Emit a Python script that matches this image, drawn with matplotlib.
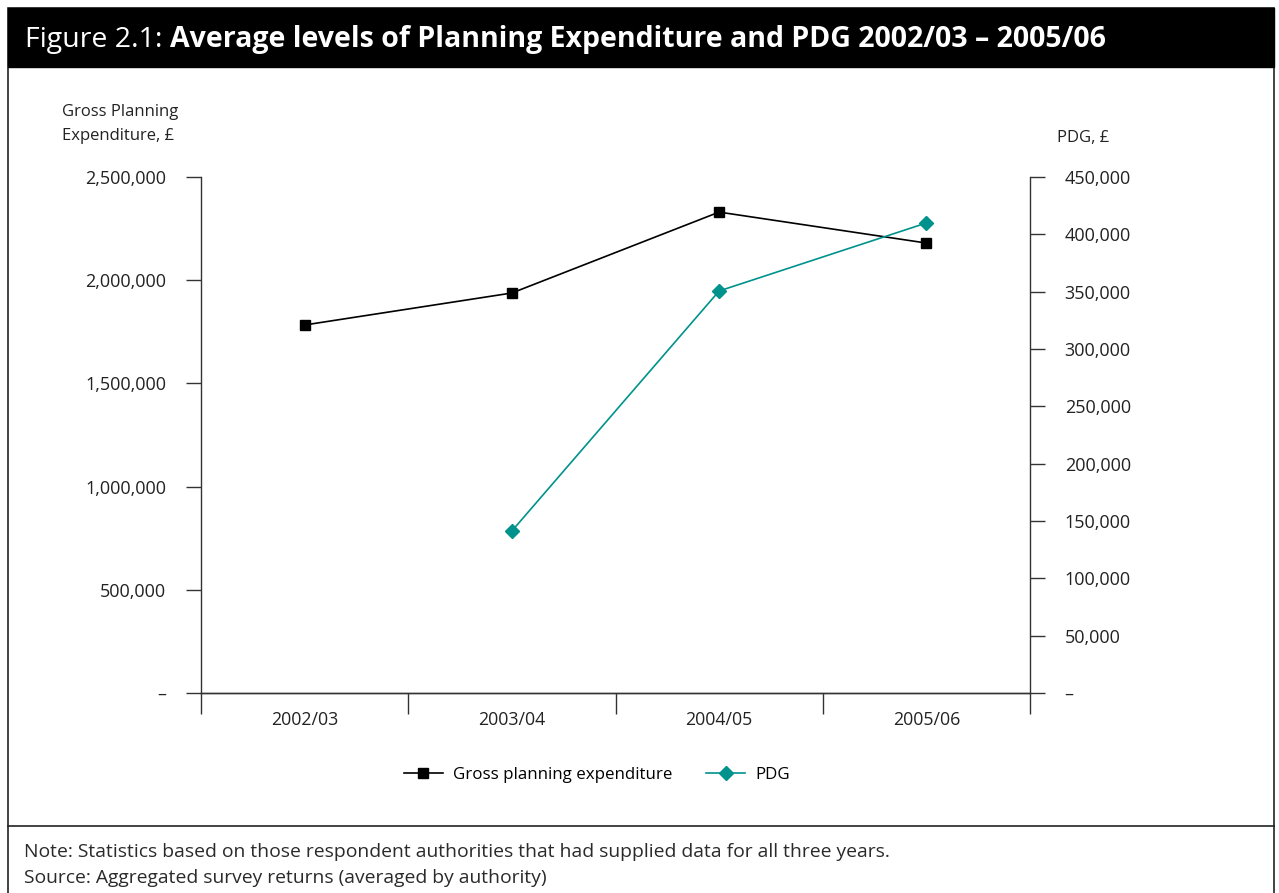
import matplotlib.pyplot as plt
from matplotlib.patches import Rectangle
from matplotlib.lines import Line2D
from matplotlib.ticker import FuncFormatter

plt.rcParams['font.family'] = ['Open Sans', 'DejaVu Sans']

years = ['2002/03', '2003/04', '2004/05', '2005/06']
gross_expenditure = [1783000, 1938000, 2330000, 2180000]
pdg_years = ['2003/04', '2004/05', '2005/06']
pdg = [141300, 350600, 409900]

left_ticks = [0, 500000, 1000000, 1500000, 2000000, 2500000]
right_ticks = [0, 50000, 100000, 150000, 200000, 250000, 300000, 350000, 400000, 450000]

teal = '#00928c'
tick_color = '#333333'
W, H = 1279, 893


def fmt(v, pos=None):
    return '–' if v == 0 else f'{int(v):,}'


fig = plt.figure(figsize=(W / 100, H / 100), dpi=100)

# frame and title bar
fig.add_artist(Rectangle((8 / W, -0.01), 1266 / W, 1 - 8 / H + 0.01, transform=fig.transFigure,
                         fill=False, edgecolor='#222222', linewidth=1.2))
fig.add_artist(Rectangle((8 / W, 1 - 67 / H), 1266 / W, 59 / H, transform=fig.transFigure,
                         facecolor='black', edgecolor='black'))
fig.add_artist(Line2D([8 / W, 1274 / W], [1 - 826 / H] * 2, transform=fig.transFigure,
                      color='#222222', linewidth=1.2))
t1 = fig.text(25 / W, 1 - 47 / H, 'Figure 2.1: ', color='white', fontsize=20.5, va='baseline')
fig.canvas.draw()
bb = t1.get_window_extent()
fig.text(bb.x1 / W, 1 - 47 / H, 'Average levels of Planning Expenditure and PDG 2002/03 – 2005/06',
         color='white', fontsize=20.5, fontweight='bold', va='baseline')

ax = fig.add_axes([201 / W, 1 - 693 / H, 829 / W, 516 / H])
x = list(range(len(years)))
xp = [years.index(y) for y in pdg_years]

ax.plot(x, gross_expenditure, color='black', marker='s', markersize=7, linewidth=1.2,
        label='Gross planning expenditure')
ax.set_xlim(-0.5, 3.5)
ax.set_ylim(0, 2500000)
ax.set_yticks(left_ticks)
ax.yaxis.set_major_formatter(FuncFormatter(fmt))

ax2 = ax.twinx()
ax2.plot(xp, pdg, color=teal, marker='D', markersize=7, linewidth=1.2, label='PDG')
ax2.set_ylim(0, 450000)
ax2.set_yticks(right_ticks)
ax2.yaxis.set_major_formatter(FuncFormatter(fmt))

for a in (ax, ax2):
    a.spines['top'].set_visible(False)
    for s in a.spines.values():
        s.set_color(tick_color)
        s.set_linewidth(1.0)
    a.tick_params(axis='y', length=11, width=1.0, color=tick_color, labelsize=13,
                  labelcolor='#222222', pad=14)
ax2.spines['left'].set_visible(False)
ax.spines['right'].set_visible(False)

# categories between tick marks
ax.set_xticks([-0.5, 0.5, 1.5, 2.5, 3.5])
ax.set_xticklabels([])
ax.tick_params(axis='x', length=15, width=1.0, color=tick_color, direction='out')
for i, lab in enumerate(years):
    ax.text(i, -0.053, lab, transform=ax.get_xaxis_transform(), ha='center', va='center',
            fontsize=12.8, color='#222222')

fig.text(62 / W, 1 - 124 / H, 'Gross Planning\nExpenditure, £', fontsize=12, va='center',
         ha='left', color='#222222', linespacing=1.75)
fig.text(1057 / W, 1 - 138 / H, 'PDG, £', fontsize=12, va='center', ha='left', color='#222222')

handles = ax.get_lines() + ax2.get_lines()
fig.legend(handles, [h.get_label() for h in handles], loc='center', bbox_to_anchor=(597 / W, 1 - 775 / H),
           ncol=2, frameon=False, fontsize=12.2, handlelength=2.3, handletextpad=0.6,
           columnspacing=2.0, markerscale=1.0)

fig.text(24 / W, 1 - 852 / H, 'Note: Statistics based on those respondent authorities that had supplied data for all three years.',
         fontsize=13.9, va='center', color='#2a2a2a')
fig.text(24 / W, 1 - 878 / H, 'Source: Aggregated survey returns (averaged by authority)',
         fontsize=13.9, va='center', color='#2a2a2a')

fig.savefig('out.png', dpi=100)
